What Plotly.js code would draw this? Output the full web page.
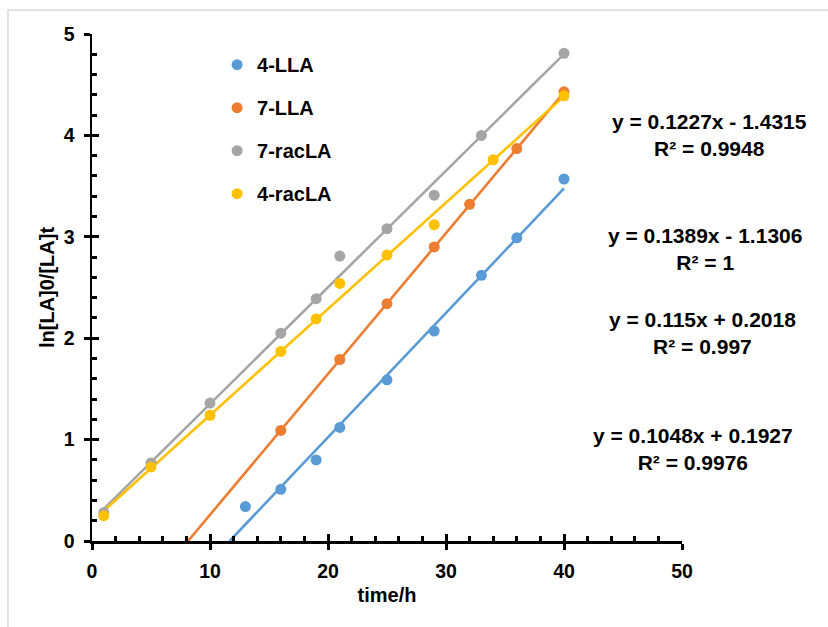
<!DOCTYPE html>
<html>
<head>
<meta charset="utf-8">
<script src="https://cdn.plot.ly/plotly-3.0.1.min.js"></script>
<style>html,body{margin:0;padding:0;background:#fff;}#chart{width:828px;height:627px;}</style>
</head>
<body>
<div id="chart"></div>
<script>
// ---- data ----
const seriesNames = ['4-LLA', '7-LLA', '7-racLA', '4-racLA'];
const seriesColors = ['#5B9BD5', '#ED7D31', '#A5A5A5', '#FFC000'];

const x4LLA = [13, 16, 19, 21, 25, 29, 33, 36, 40];
const y4LLA = [0.34, 0.51, 0.80, 1.12, 1.59, 2.07, 2.62, 2.99, 3.57];

const x7LLA = [16, 21, 25, 29, 32, 36, 40];
const y7LLA = [1.09, 1.79, 2.34, 2.90, 3.32, 3.87, 4.43];

const x7racLA = [1, 5, 10, 16, 19, 21, 25, 29, 33, 40];
const y7racLA = [0.28, 0.77, 1.36, 2.05, 2.39, 2.81, 3.08, 3.41, 4.00, 4.81];

const x4racLA = [1, 5, 10, 16, 19, 21, 25, 29, 34, 40];
const y4racLA = [0.25, 0.73, 1.24, 1.87, 2.19, 2.54, 2.82, 3.12, 3.76, 4.39];

// trendline equations (slope, intercept, R²) as printed on the chart
const fitSlopes = [0.1227, 0.1389, 0.115, 0.1048];
const fitIntercepts = [-1.4315, -1.1306, 0.2018, 0.1927];
const fitR2 = ['0.9948', '1', '0.997', '0.9976'];

const xRange = [0, 50];
const yRange = [0, 5];
const xMajor = 10, xMinor = 2;
const yMajor = 1, yMinor = 0.2;
const xTitle = 'time/h';
const yTitle = 'ln[LA]0/[LA]t';

// ---- build traces ----
const xs = [x4LLA, x7LLA, x7racLA, x4racLA];
const ys = [y4LLA, y7LLA, y7racLA, y4racLA];
const allX = [].concat(...xs);
const globalMinX = Math.min(...allX);

const FONT = 'Arial, "Liberation Sans", sans-serif';
const traces = [];
for (let i = 0; i < 4; i++) {
  const m = fitSlopes[i], b = fitIntercepts[i];
  const x0 = Math.max(globalMinX, -b / m);
  const x1 = Math.max(...xs[i]);
  traces.push({
    type: 'scatter', mode: 'lines',
    x: [x0, x1], y: [m * x0 + b, m * x1 + b],
    line: {color: seriesColors[i], width: 2.6},
    legendgroup: 'g' + i, showlegend: false, hoverinfo: 'skip'
  });
}
for (let i = 0; i < 4; i++) {
  traces.push({
    type: 'scatter', mode: 'markers', name: seriesNames[i],
    x: xs[i], y: ys[i],
    marker: {color: seriesColors[i], size: 11},
    legendgroup: 'g' + i
  });
}
// placeholder trace (no visible point) that activates the overlay axes (inner ticks)
traces.push({type: 'scatter', mode: 'markers', x: [null], y: [null], xaxis: 'x2', yaxis: 'y2',
  showlegend: false, hoverinfo: 'skip'});

// ---- annotations: trendline equations ----
function fmtEq(m, b) {
  const sign = b < 0 ? ' - ' : ' + ';
  return 'y = ' + m + 'x' + sign + Math.abs(b);
}
const eqPos = [[1.0458, 0.8008], [1.039, 0.5769], [1.0339, 0.4093], [1.0186, 0.1815]];
const annotations = fitSlopes.map((m, k) => ({
  xref: 'paper', yref: 'paper', x: eqPos[k][0], y: eqPos[k][1],
  xanchor: 'center', yanchor: 'middle', align: 'center', showarrow: false,
  text: fmtEq(m, fitIntercepts[k]) + '<br>R² = ' + fitR2[k],
  font: {family: FONT, size: 21, color: '#000', weight: 'bold'}
}));

const NOGRID = 'rgba(0,0,0,0)';

const layout = {
  width: 828, height: 627,
  margin: {l: 92, r: 146, t: 34, b: 86, pad: 0},
  font: {family: FONT, color: '#000'},
  showlegend: true,
  legend: {
    x: 0.212, y: 0.978, xanchor: 'left', yanchor: 'top',
    bgcolor: 'rgba(0,0,0,0)', traceorder: 'grouped', tracegroupgap: 14,
    font: {family: FONT, size: 20, color: '#000', weight: 'bold'}
  },
  xaxis: {
    range: xRange, tickmode: 'linear', tick0: 0, dtick: xMajor,
    showgrid: true, gridcolor: NOGRID, zeroline: false,
    ticks: 'outside', ticklen: 6, tickwidth: 3, tickcolor: 'black',
    showline: true, linecolor: 'black', linewidth: 2.5,
    tickfont: {family: FONT, size: 19.5, color: '#000', weight: 'bold'}, ticklabelstandoff: 5,
    title: {text: xTitle, font: {family: FONT, size: 20, color: '#000', weight: 'bold'}, standoff: 7}
  },
  yaxis: {
    range: yRange, tickmode: 'linear', tick0: 0, dtick: yMajor,
    showgrid: true, gridcolor: NOGRID, zeroline: false,
    ticks: 'outside', ticklen: 6, tickwidth: 3, tickcolor: 'black',
    showline: true, linecolor: 'black', linewidth: 2.5,
    tickfont: {family: FONT, size: 19.5, color: '#000', weight: 'bold'}, ticklabelstandoff: 5,
    title: {text: yTitle, font: {family: FONT, size: 20, color: '#000', weight: 'bold'}, standoff: 4}
  },
  xaxis2: {
    overlaying: 'x', range: xRange, anchor: 'y2',
    tickmode: 'linear', tick0: 0, dtick: xMajor, showticklabels: false, showgrid: false, zeroline: false,
    ticks: 'inside', ticklen: 7, tickwidth: 3, tickcolor: 'black',
    minor: {dtick: xMinor, tick0: 0, ticks: 'inside', ticklen: 5, tickwidth: 3, tickcolor: 'black'}
  },
  yaxis2: {
    overlaying: 'y', range: yRange, anchor: 'x2',
    tickmode: 'linear', tick0: 0, dtick: yMajor, showticklabels: false, showgrid: false, zeroline: false,
    ticks: 'inside', ticklen: 7, tickwidth: 3, tickcolor: 'black',
    minor: {dtick: yMinor, tick0: 0, ticks: 'inside', ticklen: 5, tickwidth: 3, tickcolor: 'black'}
  },
  annotations: annotations,
  shapes: [{
    type: 'rect', xref: 'paper', yref: 'paper', layer: 'above',
    x0: -0.1424, y0: -0.2, x1: 1.3, y1: 1.0473,
    line: {color: '#D9D9D9', width: 1.5}
  }]
};

Plotly.newPlot('chart', traces, layout, {staticPlot: true, displayModeBar: false});
</script>
</body>
</html>
